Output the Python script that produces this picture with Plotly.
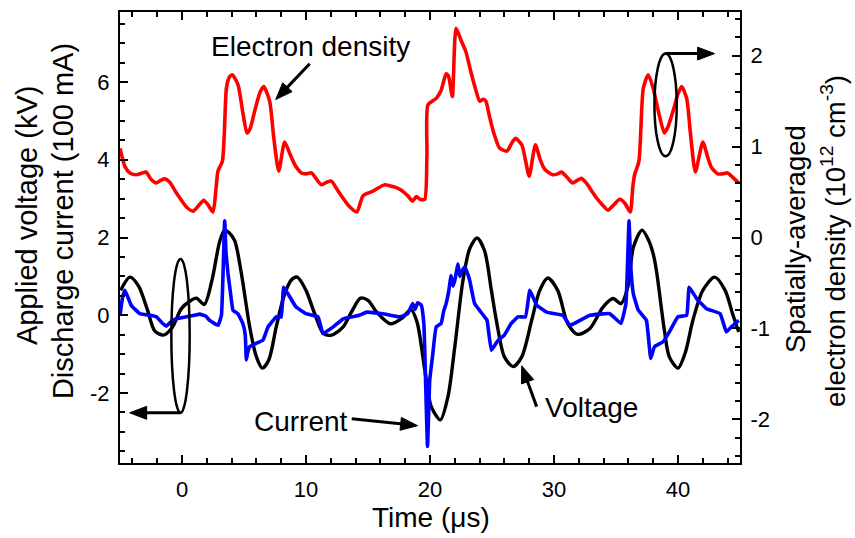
import math
import plotly.graph_objects as go

# ---- electron density (right axis, 1e12 cm^-3) ----
t_ne = [-5.0, -4.6, -4.2, -3.7, -3.2, -2.9, -2.5, -2.1, -1.7, -1.4, -1.0, -0.5, -0.2, 0.4, 0.9,
        1.4, 1.75, 2.1, 2.5, 2.75, 2.9, 3.26, 3.58, 3.8, 4.06, 4.52, 4.9, 5.24, 5.5, 5.86,
        6.3, 6.6, 7.07, 7.4, 7.8, 8.28, 8.7, 9.1, 9.63, 10.0, 10.44, 10.8, 11.24, 11.7, 12.05,
        12.5, 12.95, 13.5, 14.1, 14.6, 15.4, 16.35, 17.0, 17.56, 18.2, 18.6, 18.9, 19.2, 19.57,
        19.75, 19.84, 20.5, 20.9, 21.3, 21.5, 21.8, 22.1, 22.5, 22.9, 23.3, 23.7, 24.0, 24.3,
        24.5, 24.8, 25.1, 25.6, 26.2, 26.6, 26.9, 27.4, 27.7, 28.0, 28.5, 28.9, 29.25, 29.9,
        30.3, 30.6, 31.0, 31.5, 31.9, 32.2, 32.6, 33.0, 33.4, 33.9, 34.35, 34.9, 35.3, 35.7,
        36.15, 36.35, 36.5, 36.85, 37.2, 37.6, 38.0, 38.4, 38.9, 39.2, 39.6, 40.0, 40.3, 40.7,
        41.0, 41.4, 42.0, 42.4, 42.7, 43.2, 43.6, 44.0, 44.5, 44.9]
ne = [0.98, 0.78, 0.71, 0.69, 0.71, 0.72, 0.64, 0.60, 0.63, 0.645, 0.61, 0.50, 0.44, 0.33, 0.29,
      0.36, 0.41, 0.36, 0.28, 0.55, 0.73, 0.84, 1.64, 1.76, 1.79, 1.68, 1.38, 1.15, 1.20, 1.39,
      1.60, 1.66, 1.50, 1.10, 0.73, 1.05, 0.92, 0.80, 0.71, 0.70, 0.71, 0.65, 0.58, 0.61, 0.62,
      0.53, 0.44, 0.34, 0.28, 0.46, 0.51, 0.58, 0.56, 0.53, 0.46, 0.40, 0.45, 0.42, 0.42,
      0.90, 1.46, 1.53, 1.62, 1.80, 1.77, 1.55, 2.30, 2.17, 2.04, 1.82, 1.62, 1.50, 1.52,
      1.50, 1.33, 1.17, 0.985, 0.95, 1.04, 1.09, 1.02, 0.85, 0.675, 1.02, 0.85, 0.75, 0.69,
      0.70, 0.72, 0.67, 0.60, 0.63, 0.65, 0.60, 0.52, 0.44, 0.36, 0.30, 0.37, 0.42, 0.38,
      0.28, 0.55, 0.69, 0.84, 1.64, 1.79, 1.64, 1.40, 1.15, 1.22, 1.39, 1.58, 1.66, 1.53,
      1.15, 0.72, 1.05, 0.88, 0.77, 0.70, 0.70, 0.71, 0.65, 0.60]

# ---- applied voltage (left axis, kV) ----
t_v = [-4.95, -4.2, -3.5, -2.8, -2.2, -1.5, -0.8, -0.05, 0.62, 1.16, 1.8, 2.45, 3.04, 3.44,
       3.8, 4.25, 4.79, 5.46, 6.0, 6.48, 7.0, 7.6, 8.2, 8.8, 9.3, 10.0, 10.7, 11.4, 12.06,
       13.0, 13.66, 14.4, 15.0, 15.7, 16.8, 17.8, 18.45, 18.95, 19.6, 20.1, 20.84, 21.45,
       22.0, 22.66, 23.2, 23.8, 24.4, 24.95, 25.35, 26.0, 26.7, 27.4, 28.2, 28.85, 29.5,
       30.3, 31.1, 31.9, 32.9, 33.95, 34.76, 35.4, 35.97, 36.4, 37.1, 37.6, 38.0, 38.26,
       38.9, 39.3, 40.0, 40.6, 41.2, 42.0, 42.96, 43.8, 44.4, 44.9]
volt = [0.64, 0.98, 0.75, 0.15, -0.40, -0.51, -0.32, 0.17, 0.36, 0.44, 0.28, 0.95, 1.90, 2.19,
        2.12, 1.92, 1.07, -0.30, -1.07, -1.36, -1.15, -0.30, 0.47, 0.90, 0.98, 0.64, 0.04, -0.47,
        -0.51, -0.30, 0.08, 0.44, 0.38, 0.08, -0.22, -0.06, 0.15, -0.17, -1.45, -2.35, -2.69,
        -2.09, -0.81, 0.90, 1.71, 1.99, 1.66, 0.64, -0.13, -1.07, -1.32, -1.07, -0.13, 0.64,
        0.96, 0.64, -0.21, -0.49, -0.34, 0.21, 0.43, 0.30, 0.75, 1.75, 2.19, 1.95, 1.58, 1.15,
        -0.38, -1.07, -1.36, -0.95, -0.13, 0.64, 0.98, 0.64, 0.04, -0.43]

# ---- discharge current (left axis, 100 mA) ----
t_i = [-5.0, -4.8, -4.6, -4.1, -3.4, -2.6, -2.06, -1.6, -1.26, -0.9, -0.45, 0.35, 1.0, 1.43,
       1.9, 2.23, 2.9, 3.18, 3.44, 3.55, 3.71, 3.9, 4.11, 4.5, 4.9, 5.1, 5.19, 5.3, 5.46, 6.0,
       6.53, 6.94, 7.6, 8.0, 8.2, 8.7, 9.2, 10.0, 10.97, 11.37, 12.2, 13.0, 14.3, 14.9, 16.2,
       17.6, 18.2, 18.6, 18.8, 19.0, 19.3, 19.5, 19.57, 19.8, 19.98, 20.2, 20.5, 20.9, 21.1,
       21.3, 21.5, 21.7, 21.85, 22.0, 22.26, 22.4, 22.53, 22.8, 23.0, 23.2, 23.6, 24.3, 24.6,
       24.95, 25.5, 26.0, 26.55, 27.1, 27.7, 28.05, 28.6, 29.4, 30.7, 31.3, 32.1, 32.9, 34.5,
       35.4, 35.8, 36.05, 36.2, 36.4, 36.8, 37.45, 37.8, 38.1, 38.8, 39.3, 40.0, 40.7, 40.9,
       41.5, 42.3, 43.4, 43.9, 44.3, 44.9]
curr = [0.0, 0.45, 0.64, 0.26, 0.04, 0.0, -0.04, -0.20, -0.28, -0.17, -0.09, -0.04, 0.0, 0.03,
        -0.02, -0.13, -0.26, 0.0, 2.43, 1.6, 1.07, 0.6, 0.13, 0.04, -0.21, -0.5, -1.15, -0.95,
        -0.81, -0.72, -0.64, -0.30, -0.04, -0.04, 0.72, 0.47, 0.21, 0.04, -0.04, -0.47, -0.30,
        -0.09, 0.0, 0.08, 0.04, -0.04, 0.04, 0.30, 0.15, 0.32, 0.26, -0.2, -0.81, -3.37, -1.66,
        -1.07, -0.30, -0.21, 0.1, 0.30, 0.6, 1.02, 0.75, 0.90, 1.32, 1.0, 1.11, 1.24, 1.1, 0.90,
        0.30, 0.0, -0.13, -0.90, -0.64, -0.51, -0.21, -0.04, -0.04, 0.64, 0.26, 0.08, 0.0, -0.26,
        -0.13, 0.0, 0.04, -0.21, 0.30, 2.43, 1.2, 0.55, 0.13, -0.13, -1.11, -0.81, -0.68, -0.43,
        -0.04, 0.0, 0.72, 0.43, 0.17, 0.04, -0.43, -0.30, -0.13]

# axis settings
X_RANGE = [-5, 45]
Y_RANGE = [-3.8, 7.8]
Y2_RANGE = [-2.48, 2.48]
W, H = 855, 538
M = dict(l=120, r=115, t=10, b=75)
PW = W - M["l"] - M["r"]
PH = H - M["t"] - M["b"]
SX = PW / (X_RANGE[1] - X_RANGE[0])
SY = PH / (Y_RANGE[1] - Y_RANGE[0])

FONT = "Liberation Sans, Arial, sans-serif"

fig = go.Figure()
fig.add_trace(go.Scatter(x=t_ne, y=ne, yaxis="y2", mode="lines",
                         line=dict(color="#ff0000", width=3.6, shape="spline", smoothing=0.6),
                         showlegend=False))
fig.add_trace(go.Scatter(x=t_v, y=volt, mode="lines",
                         line=dict(color="#000000", width=3.4, shape="spline", smoothing=0.8),
                         showlegend=False))
fig.add_trace(go.Scatter(x=t_i, y=curr, mode="lines",
                         line=dict(color="#0000ff", width=3.6, shape="spline", smoothing=0.3),
                         showlegend=False))

shapes = []


def arrow(tail, tip, head_len=17, half_w=6.5, width=3):
    """Straight arrow with a filled triangular head, given in (time, left-axis) units."""
    dx = (tip[0] - tail[0]) * SX
    dy = (tip[1] - tail[1]) * SY
    n = math.hypot(dx, dy)
    ux, uy = dx / n, dy / n
    px, py = -uy, ux
    bx, by = tip[0] - ux * head_len / SX, tip[1] - uy * head_len / SY
    shapes.append(dict(type="line", xref="x", yref="y", x0=tail[0], y0=tail[1],
                       x1=bx + ux * 2 / SX, y1=by + uy * 2 / SY,
                       line=dict(color="black", width=width)))
    c1 = (bx + px * half_w / SX, by + py * half_w / SY)
    c2 = (bx - px * half_w / SX, by - py * half_w / SY)
    path = f"M{tip[0]},{tip[1]} L{c1[0]},{c1[1]} L{c2[0]},{c2[1]} Z"
    shapes.append(dict(type="path", xref="x", yref="y", path=path,
                       fillcolor="black", line=dict(color="black", width=1)))


# ellipses marking which curve belongs to which axis
shapes.append(dict(type="circle", xref="x", yref="y", x0=-0.86, x1=0.62, y0=-2.51, y1=1.45,
                   line=dict(color="black", width=2.5)))
shapes.append(dict(type="circle", xref="x", yref="y", x0=38.1, x1=39.9, y0=4.09, y1=6.73,
                   line=dict(color="black", width=2.5)))

arrow((-0.1, -2.51), (-4.22, -2.51))
arrow((38.98, 6.73), (42.95, 6.73))
arrow((10.3, 6.47), (7.56, 5.55))
arrow((13.69, -2.66), (19.0, -2.84))
arrow((28.6, -2.35), (27.4, -1.30))

ann = []
lab = dict(color="black", size=28, family=FONT)
ann.append(dict(x=10.37, y=6.9, xref="x", yref="y", text="Electron density",
                showarrow=False, font=lab))
ann.append(dict(x=9.56, y=-2.73, xref="x", yref="y", text="Current", showarrow=False, font=lab))
ann.append(dict(x=33.0, y=-2.38, xref="x", yref="y", text="Voltage", showarrow=False, font=lab))


def px2paper(px, py):
    return (px - M["l"]) / PW, (H - M["b"] - py) / PH


for txt, (cx, cy), size in [("Applied voltage (kV)", (27, 214), 29),
                            ("Discharge current (100 mA)", (63, 220), 29),
                            ("Spatially-averaged", (796, 238), 27.5),
                            ("electron density (10<sup>12</sup> cm<sup>-3</sup>)", (834, 240), 27.5)]:
    x, y = px2paper(cx, cy)
    ann.append(dict(x=x, y=y, xref="paper", yref="paper", text=txt, textangle=-90,
                    showarrow=False, font=dict(color="black", size=size, family=FONT),
                    xanchor="center", yanchor="middle"))
x, y = px2paper(431, 518)
ann.append(dict(x=x, y=y, xref="paper", yref="paper", text="Time (μs)", showarrow=False,
                font=dict(color="black", size=28, family=FONT),
                xanchor="center", yanchor="middle"))

tick_font = dict(color="black", size=22, family=FONT)
left_vals = [-2, 0, 2, 4, 6]
right_vals = [-2, -1, 0, 1, 2]

fig.update_layout(
    width=W, height=H, margin=M,
    paper_bgcolor="white", plot_bgcolor="white",
    font=dict(family=FONT, color="black"),
    shapes=shapes, annotations=ann,
    xaxis=dict(range=X_RANGE, showgrid=False, zeroline=False, showline=True,
               linecolor="black", linewidth=2, mirror="ticks",
               ticks="inside", ticklen=8, tickwidth=2, tickcolor="black",
               dtick=10, tick0=0, tickfont=tick_font, ticklabelstandoff=6,
               minor=dict(dtick=2, tick0=0, ticks="inside", ticklen=5, tickwidth=2,
                          tickcolor="black", showgrid=False)),
    yaxis=dict(range=Y_RANGE, showgrid=False, zeroline=False, showline=True,
               linecolor="black", linewidth=2,
               ticks="inside", ticklen=8, tickwidth=2, tickcolor="black",
               tickmode="array", tickvals=left_vals, ticktext=[str(v) for v in left_vals],
               tickfont=tick_font, ticklabelstandoff=4,
               minor=dict(dtick=0.5, tick0=0, ticks="inside", ticklen=5, tickwidth=2,
                          tickcolor="black", showgrid=False)),
    yaxis2=dict(range=Y2_RANGE, overlaying="y", side="right", showgrid=False,
                zeroline=False, showline=True, linecolor="black", linewidth=2,
                ticks="inside", ticklen=8, tickwidth=2, tickcolor="black",
                tickmode="array", tickvals=right_vals, ticktext=[str(v) for v in right_vals],
                tickfont=tick_font, ticklabelstandoff=4,
                minor=dict(dtick=0.2, tick0=0, ticks="inside", ticklen=5, tickwidth=2,
                           tickcolor="black", showgrid=False)),
)

fig.write_html("out.html")
